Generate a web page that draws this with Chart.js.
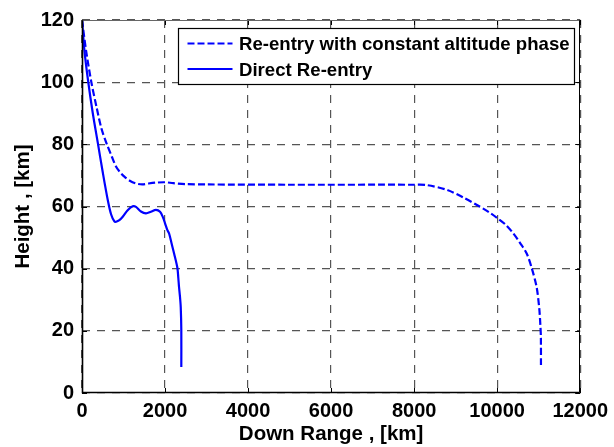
<!DOCTYPE html>
<html lang="en">
  <head>
    <style>
      html, body { margin: 0; padding: 0; background: #fff; }
      .chart { width: 614px; height: 447px; }
    </style>
  </head>
  <body>
    <div class="chart">
      <canvas id="myChart"></canvas>
    </div>

    <script src="https://cdn.jsdelivr.net/npm/chart.js@4.4.0/dist/chart.umd.min.js"></script>
    <script>
      // re-entry with constant altitude phase (dashed)
      var const_x = [0, 100, 225, 350, 470, 600, 720, 822, 920, 1021, 1150, 1300, 1450, 1600, 1800, 2000, 2200, 2500, 3000, 5000, 8000, 8300, 8800, 9200, 9524, 9800, 10000, 10200, 10392, 10550, 10711, 10830, 10950, 11014, 11040, 11053, 11055];
      var const_y = [120, 110, 100, 92, 85, 80, 76, 72.8, 71, 69.6, 68.3, 67.4, 67.1, 67.4, 67.7, 67.8, 67.5, 67.2, 67.1, 67.0, 67.0, 66.9, 65.3, 62.8, 60.4, 58.2, 56.3, 54.2, 51.3, 48.3, 44.9, 40.3, 34.1, 27.2, 22, 18, 8.9];

      // direct re-entry (solid)
      var direct_x = [0, 60, 144, 260, 383, 500, 622, 700, 780, 823, 900, 981, 1100, 1220, 1300, 1420, 1541, 1660, 1780, 1880, 1950, 2000, 2057, 2098, 2160, 2218, 2297, 2320, 2337, 2360, 2378, 2392, 2392];
      var direct_y = [120, 110, 100.7, 90, 80.3, 71, 62, 57.5, 55.2, 55.1, 55.6, 56.7, 58.8, 60.1, 59.9, 58.4, 57.8, 58.3, 58.9, 58.3, 56.5, 54.6, 52.4, 51.3, 48, 44.9, 40.3, 37, 34.1, 31, 27.7, 20.2, 8.4];

      var series_labels = ["Re-entry with constant altitude phase", "Direct Re-entry"];
      var x_ticks = [0, 2000, 4000, 6000, 8000, 10000, 12000];
      var y_ticks = [0, 20, 40, 60, 80, 100, 120];

      function toPoints(xs, ys) {
        return xs.map(function (x, i) { return { x: x, y: ys[i] }; });
      }

      var FONT = "'Liberation Sans', Arial, sans-serif";

      // matlab-ish frame: solid box, inward ticks, legend inside top right
      var framePlugin = {
        id: "frame",
        afterDraw: function (chart) {
          var ctx = chart.ctx;
          var a = chart.chartArea;
          var xs = chart.scales.x, ys = chart.scales.y;
          ctx.save();
          ctx.strokeStyle = "#000";
          ctx.lineWidth = 1;
          ctx.setLineDash([]);
          ctx.beginPath();
          x_ticks.forEach(function (v) {
            var px = Math.round(xs.getPixelForValue(v)) + 0.5;
            ctx.moveTo(px, a.bottom); ctx.lineTo(px, a.bottom - 5);
            ctx.moveTo(px, a.top); ctx.lineTo(px, a.top + 5);
          });
          y_ticks.forEach(function (v) {
            var py = Math.round(ys.getPixelForValue(v)) + 0.5;
            ctx.moveTo(a.left, py); ctx.lineTo(a.left + 5, py);
            ctx.moveTo(a.right, py); ctx.lineTo(a.right - 5, py);
          });
          ctx.stroke();
          // left/bottom heavier, top/right lighter like the original
          var l = Math.round(a.left) + 0.5, r = Math.round(a.right) - 0.5;
          var t = Math.round(a.top) + 0.5, b = Math.round(a.bottom) - 0.5;
          ctx.lineWidth = 1;
          ctx.strokeStyle = "#666";
          ctx.beginPath();
          ctx.moveTo(l, t); ctx.lineTo(r, t);
          ctx.stroke();
          ctx.strokeStyle = "#000";
          ctx.beginPath();
          ctx.moveTo(r, t); ctx.lineTo(r, b);
          ctx.stroke();
          ctx.lineWidth = 1.6;
          ctx.beginPath();
          ctx.moveTo(l, t); ctx.lineTo(l, b); ctx.lineTo(r, b);
          ctx.stroke();

          // legend
          var w = 396, h = 56;
          var bx = Math.round(a.right - 6 - w) + 0.5;
          var by = Math.round(a.top + 8) + 0.5;
          ctx.fillStyle = "#fff";
          ctx.fillRect(bx, by, w, h);
          ctx.lineWidth = 1.2;
          ctx.strokeStyle = "#000";
          ctx.strokeRect(bx, by, w, h);
          var rows = [15, 40.5];
          chart.data.datasets.forEach(function (ds, i) {
            var ly = by + rows[i];
            ctx.strokeStyle = ds.borderColor;
            ctx.lineWidth = ds.borderWidth;
            ctx.setLineDash(ds.borderDash || []);
            ctx.beginPath();
            ctx.moveTo(bx + 9, ly);
            ctx.lineTo(bx + 54, ly);
            ctx.stroke();
            ctx.setLineDash([]);
            ctx.fillStyle = "#000";
            ctx.font = "bold 18.6px " + FONT;
            ctx.textBaseline = "middle";
            ctx.textAlign = "left";
            ctx.fillText(ds.label, bx + 60.5, ly + 1.5);
          });
          ctx.restore();
        },
      };

      var ctx = document.getElementById("myChart");
      var chart = new Chart(ctx, {
        type: "scatter",
        data: {
          datasets: [
            {
              label: series_labels[0],
              data: toPoints(const_x, const_y),
              showLine: true,
              borderColor: "#0000ff",
              borderWidth: 2.2,
              borderDash: [7, 3],
              pointRadius: 0,
              tension: 0.3,
              fill: false,
            },
            {
              label: series_labels[1],
              data: toPoints(direct_x, direct_y),
              showLine: true,
              borderColor: "#0000ff",
              borderWidth: 2.2,
              pointRadius: 0,
              tension: 0.3,
              fill: false,
            },
          ],
        },
        options: {
          responsive: true,
          maintainAspectRatio: false,
          animation: false,
          layout: { padding: { top: 20, right: 30, bottom: 0, left: 0 } },
          plugins: {
            legend: { display: false },
            tooltip: { enabled: false },
          },
          scales: {
            x: {
              type: "linear",
              min: 0,
              max: 12000,
              afterBuildTicks: function (scale) {
                scale.ticks = x_ticks.map(function (v) { return { value: v }; });
              },
              afterFit: function (scale) { scale.height = 54; },
              ticks: {
                color: "#000",
                padding: 6,
                maxRotation: 0,
                autoSkip: false,
                font: { family: FONT, size: 20, weight: "bold" },
                callback: function (v) { return String(v); },
              },
              grid: { color: "#555", lineWidth: 1.2, drawTicks: false },
              border: { display: false, dash: [8, 7] },
              title: {
                display: true,
                text: "Down Range , [km]",
                color: "#000",
                padding: { top: 0, bottom: 0 },
                font: { family: FONT, size: 20.5, weight: "bold" },
              },
            },
            y: {
              type: "linear",
              min: 0,
              max: 120,
              afterBuildTicks: function (scale) {
                scale.ticks = y_ticks.map(function (v) { return { value: v }; });
              },
              afterFit: function (scale) { scale.width = 82; },
              ticks: {
                color: "#000",
                padding: 8,
                font: { family: FONT, size: 20, weight: "bold" },
                callback: function (v) { return String(v); },
              },
              grid: { color: "#555", lineWidth: 1.2, drawTicks: false },
              border: { display: false, dash: [8, 7] },
              title: {
                display: true,
                text: "Height , [km]",
                color: "#000",
                padding: { top: 11.5, bottom: 0 },
                font: { family: FONT, size: 20.5, weight: "bold" },
              },
            },
          },
        },
        plugins: [framePlugin],
      });
    </script>
  </body>
</html>
